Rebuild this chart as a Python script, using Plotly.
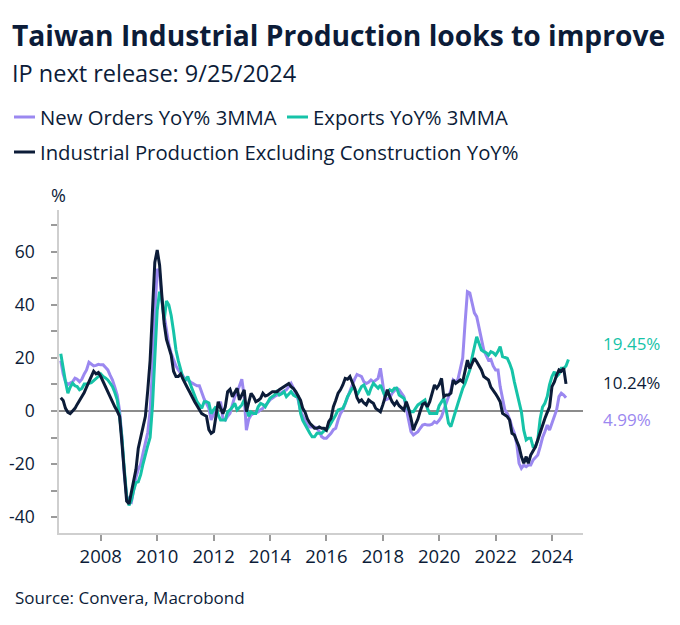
import pandas as pd
import plotly.graph_objects as go

# ---- data (monthly) ----
ip_start = "2006-08-01"
ip_yoy = [
    5, 4, 1, -0.5, -1,
    0, 1, 2.5, 4, 5.5, 7, 9, 11, 13, 15, 14, 14.5,
    13, 11, 9, 7, 5.5, 3.5, 1.6, 0, -2, -12, -25, -34,
    -35, -30, -26, -22, -14, -10, -7, -2, 8, 19, 38, 56,
    60.7, 55, 44, 33, 27, 24, 21, 15, 13, 13, 14, 12,
    10.5, 8.5, 7, 5, 3.5, 2, 0.4, -1, -1.5, -2, -7, -8.4,
    -7.8, -2, 3.5, 1, -1, 1.6, 7.3, 8.2, 5.4, 7, 8.6, 4.2,
    6, 8, -0.2, 3, 6.7, 5.4, 3.5, 4, 4.8, 6.7, 5.7, 6,
    6.5, 7.3, 7.3, 7.3, 8, 8.6, 9.2, 9.8, 10.4, 9.2, 8.5, 7.3,
    5.5, 4, 1, -0.5, -3, -4.6, -5.5, -6.5, -6.5, -6, -6.5, -6.5,
    -7.2, -4, -2.8, 1.6, 4, 6.7, 8, 9.8, 12.3, 12, 13, 10.4,
    8.6, 5, 3.5, 4.2, 3, 2.3, 4.2, 3.5, 2.9, 1, 0.5, -0.3,
    2.3, 5, 8, 5.4, 3.5, 2.3, 3.5, 2, 1, 0.4, 3.5, 1,
    -2.8, -7.2, -5, -3, 0, 2.5, 3, 1.6, 3.5, 7, 9.8, 8.6,
    10, 12.3, 5.4, 6, 6, 6.7, 11.7, 10.4, 11, 11.7, 11, 15,
    19.2, 16, 18, 19.9, 18.6, 17, 15.5, 13, 12.5, 11.7, 9, 7.9,
    6.5, 5, 3.5, -0.9, -1.5, -2.1, -3.4, -8.4, -9, -11, -13.5, -17.2,
    -19.7, -17.2, -19.7, -16.6, -15, -13.5, -10.9, -8, -5.9, -2.8, -0.5, 1.6,
    9.2, 11, 13.6, 15.5, 15, 16.1, 10.24,
]

orders_start = "2006-08-01"
new_orders_3mma = [
    19, 14, 11, 10, 10.5,
    11, 12.4, 12, 11, 12, 14, 15.5, 18.4, 17.5, 17, 17.2, 17.6,
    17.4, 17.4, 16.5, 15.5, 13.5, 11.7, 9, 6, 0, -10, -24, -32,
    -33.7, -34.3, -30, -25, -22, -20, -16, -12, -8, 0, 16, 37,
    53.6, 52, 42, 36, 30.6, 25, 21.8, 19, 17, 15.5, 14.2, 13,
    12, 11.7, 11, 10.5, 10, 9.5, 9.5, 6.7, 4.5, 2.9, 1, -3.4,
    -0.9, 1, 2, 3.5, -2.8, -3.4, -2, -0.9, 2.3, 5.4, 7, 9.2,
    12, 5.4, -7.2, -3, -1.5, -0.9, -0.5, -0.3, 0.5, 1, 2.3, 3,
    4.2, 5, 5.5, 6, 6.5, 6.7, 7.3, 8, 9.2, 10.4, 8.6, 6.5,
    4.2, -0.2, -2, -4, -5.3, -6, -6, -6, -6.5, -7.8, -9.7, -10.3,
    -10.3, -9.5, -8.4, -7, -6.5, -3.4, -1, 0.4, 3, 5.4, 7.5, 9.8,
    12, 13.8, 13.4, 13, 11, 10.4, 10.8, 11.7, 11, 11.5, 12.3, 16.1,
    10.4, 4.2, 4.5, 5, 6.7, 7.5, 8.6, 8, 6.5, 5.4, 1, -3.4,
    -7.8, -9, -8.5, -7.8, -6.5, -5.3, -5, -5.3, -5.3, -5, -4, -4.5,
    -3.5, -2.1, 0.4, 2.9, 5, 7.9, 11.7, 11, 12, 15.5, 20, 33,
    45, 44.5, 41, 37, 35.6, 31, 28, 23, 21, 19.2, 19.5, 17,
    15.5, 15.5, 9.2, 4.8, 0.4, -0.9, -3, -6, -8.4, -12.2, -19.7, -21.6,
    -20.4, -21, -20.4, -20.4, -18.5, -17.5, -16.6, -13.5, -10, -7.8, -5.3, -7.2,
    -4.6, -2, 0.4, 5.4, 6.7, 6, 4.99,
]

exports_start = "2006-08-01"
exports_3mma = [
    21.6, 15.5, 11, 6.7, 9,
    10.5, 9.5, 9.2, 8, 8.5, 10.2, 10.2, 10.5, 10.7, 11.5, 12.1, 13,
    14, 13, 12.5, 11.7, 10.5, 9.2, 7, 4.2, -2, -10, -22, -32,
    -35.6, -33.7, -30, -27, -26.7, -24, -20, -16, -13, -10, 2, 20,
    38, 45, 42, 34.3, 41.5, 40, 36, 30, 23, 19, 15.5, 12.5,
    11.7, 13, 10.5, 8, 5.5, 3.5, 2.3, 1, 3.5, 3.5, 3, -1,
    0.4, 1.6, -1.5, -3.4, -3.4, -3.4, -0.3, 0.4, 1.5, 2.9, 0.4, 1.5,
    2.3, 4.2, 1, -2, -0.3, -0.9, -0.9, 1.6, 2.9, 2.5, 1.6, 3.5,
    4.8, 5.5, 6, 7.3, 6, 6.5, 7.3, 5.4, 6.5, 7.3, 6, 5.5,
    5.4, -0.9, -3.5, -5.3, -7.2, -8.4, -9.7, -9.7, -8.4, -8.4, -8.4, -7.5,
    -7.2, -6, -4.5, -3.4, -1.5, 0.4, 0.8, 1, 3, 5.4, 7, 8.6,
    8.6, 6, 7.5, 9.2, 9.8, 8, 6, 8.6, 10.4, 9.5, 8.6, 9.8,
    7.5, 5.4, 6.5, 8, 7.5, 8.6, 8.6, 6, 5.4, 4.8, 2.9, 0.4,
    -0.3, -0.3, 1, 2.3, 2.9, 3.5, 4.2, 1, -0.9, -0.9, -0.9, -0.9,
    2, 3.5, 4.8, 0.4, -4.6, -5.9, -3.4, 0, 2.9, 6, 8.5, 10.4,
    13, 15.5, 20, 24.3, 28, 25.5, 23, 22.4, 22, 21.1, 22.4, 22,
    21.1, 22.5, 24.3, 20.5, 20.2, 19.9, 18, 15.5, 11, 7.5, 4, -0.3,
    -7.2, -10.9, -10.3, -10.3, -13.5, -13.5, -11, -3, 1.5, 2.9, 5.5, 10,
    13, 14.8, 13, 14, 16.1, 16.1, 17, 19.45,
]

end_labels = ["19.45%", "10.24%", "4.99%"]
x_ticks_years = list(range(2008, 2025, 2))
y_tick_values = [-40, -20, 0, 20, 40, 60]
y_tick_labels = ["-40", "-20", "0", "20", "40", "60"]

# ---- styling ----
PURPLE = "#9B88F0"
TEAL = "#16C3A8"
NAVY = "#0C1C38"
FONT = "'Open Sans', 'Noto Sans', sans-serif"

OFF = 8  # page body margin offset
W, H = 680 - OFF, 625 - OFF
# plot area in page pixels: x 59..583, y 210..533
L = 59 - OFF
T = 210 - OFF
PW = 583 - 59
PH = 533 - 210
R = W - L - PW
B = H - T - PH


def px(x):
    # page pixel x -> paper coordinate
    return (x - OFF - L) / PW


def py(y):
    # page pixel y -> paper coordinate
    return (T + PH - (y - OFF)) / PH


def months(start, n):
    return pd.date_range(start, periods=n, freq="MS")


fig = go.Figure()
fig.add_trace(go.Scatter(x=months(orders_start, len(new_orders_3mma)), y=new_orders_3mma,
                         mode="lines", name="New Orders YoY% 3MMA",
                         line=dict(color=PURPLE, width=3)))
fig.add_trace(go.Scatter(x=months(exports_start, len(exports_3mma)), y=exports_3mma,
                         mode="lines", name="Exports YoY% 3MMA",
                         line=dict(color=TEAL, width=3)))
fig.add_trace(go.Scatter(x=months(ip_start, len(ip_yoy)), y=ip_yoy,
                         mode="lines", name="Industrial Production Excluding Construction YoY%",
                         line=dict(color=NAVY, width=3)))

ann = []
ann.append(dict(text="<b>Taiwan Industrial Production looks to improve</b>", x=px(10), y=py(35),
                font=dict(size=28.2, color=NAVY)))
ann.append(dict(text="IP next release: 9/25/2024", x=px(10), y=py(73),
                font=dict(size=23.5, color=NAVY)))
ann.append(dict(text="New Orders YoY% 3MMA", x=px(38), y=py(117), font=dict(size=20.3, color=NAVY)))
ann.append(dict(text="Exports YoY% 3MMA", x=px(311), y=py(117), font=dict(size=20.3, color=NAVY)))
ann.append(dict(text="Industrial Production Excluding Construction YoY%", x=px(38), y=py(152),
                font=dict(size=20.3, color=NAVY)))
ann.append(dict(text="%", x=px(49), y=py(195), font=dict(size=18, color=NAVY)))
ann.append(dict(text=end_labels[0], x=px(601), y=py(343), font=dict(size=17, color=TEAL)))
ann.append(dict(text=end_labels[1], x=px(601), y=py(382), font=dict(size=17, color=NAVY)))
ann.append(dict(text=end_labels[2], x=px(601), y=py(419), font=dict(size=17, color=PURPLE)))
ann.append(dict(text="Source: Convera, Macrobond", x=px(13), y=py(597), font=dict(size=17, color=NAVY)))
for a in ann:
    a.update(xref="paper", yref="paper", xanchor="left", yanchor="middle", showarrow=False)

shapes = [
    dict(type="line", xref="paper", yref="paper", x0=px(14), x1=px(35), y0=py(117), y1=py(117),
         line=dict(color=PURPLE, width=3)),
    dict(type="line", xref="paper", yref="paper", x0=px(287), x1=px(308), y0=py(117), y1=py(117),
         line=dict(color=TEAL, width=3)),
    dict(type="line", xref="paper", yref="paper", x0=px(14), x1=px(35), y0=py(152), y1=py(152),
         line=dict(color=NAVY, width=3)),
]

fig.update_layout(
    width=W, height=H,
    margin=dict(l=L, r=R, t=T, b=B, pad=0, autoexpand=False),
    paper_bgcolor="white", plot_bgcolor="white",
    font=dict(family=FONT, color=NAVY),
    showlegend=False,
    annotations=ann, shapes=shapes,
)
fig.update_xaxes(
    type="date", range=["2006-07-09", "2025-02-06"], automargin=False,
    tickvals=[f"{y}-01-01" for y in x_ticks_years], ticktext=[str(y) for y in x_ticks_years],
    ticks="outside", ticklen=6, tickcolor="#9a9a9a", tickwidth=1.5,
    showline=True, linecolor="#cfcfcf", linewidth=1.5,
    showgrid=False, zeroline=False,
    tickfont=dict(size=18.5, color=NAVY), ticklabelstandoff=0,
)
fig.update_yaxes(
    range=[-46, 75.8], tickvals=y_tick_values, ticktext=y_tick_labels, automargin=False,
    ticks="outside", ticklen=6, tickcolor="#9a9a9a", tickwidth=1.5,
    minor=dict(tickvals=[-30, -10, 10, 30, 50, 70], ticks="outside", ticklen=6,
               tickcolor="#9a9a9a", tickwidth=1.5),
    showline=True, linecolor="#cfcfcf", linewidth=1.5,
    showgrid=False, zeroline=True, zerolinecolor="#8c8c8c", zerolinewidth=1.5,
    tickfont=dict(size=17.5, color=NAVY), ticklabelstandoff=13,
)

fig.write_html("out.html")
